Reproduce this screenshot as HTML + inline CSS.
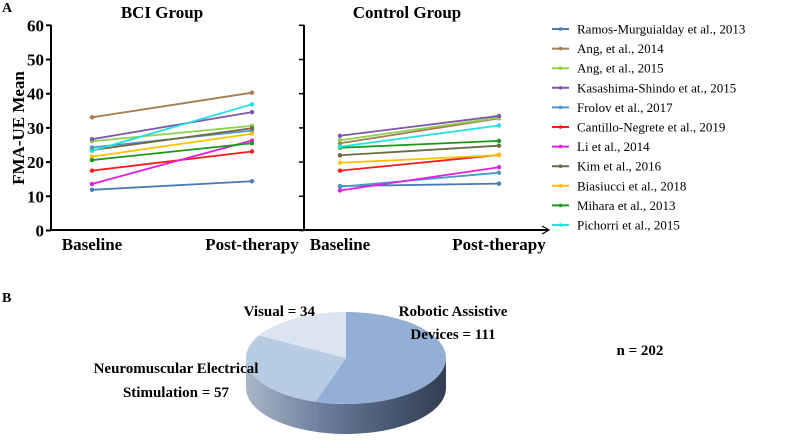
<!DOCTYPE html>
<html><head><meta charset="utf-8"><style>
body{margin:0;background:#fff;width:791px;height:440px;overflow:hidden}
svg{display:block;font-family:"Liberation Serif",serif}
.b{font-weight:bold}
</style></head><body>
<svg id="c" width="791" height="440">
<text x="2" y="12" class="b" font-size="14">A</text>
<text x="2" y="302" class="b" font-size="14">B</text>
<text x="162" y="18" class="b" font-size="17" text-anchor="middle">BCI Group</text>
<text x="407" y="18" class="b" font-size="17" text-anchor="middle">Control Group</text>
<text transform="translate(24,128) rotate(-90)" class="b" font-size="17" text-anchor="middle">FMA-UE Mean</text>
<g id="axes"></g><g id="lines"></g><g id="legend"></g><g id="pie"></g>
<text x="315" y="316" class="b" font-size="15" text-anchor="end">Visual = 34</text>
<text x="453" y="316" class="b" font-size="15" text-anchor="middle">Robotic Assistive</text>
<text x="453" y="339" class="b" font-size="15" text-anchor="middle">Devices = 111</text>
<text x="176" y="373" class="b" font-size="15" text-anchor="middle">Neuromuscular Electrical</text>
<text x="176" y="397" class="b" font-size="15" text-anchor="middle">Stimulation = 57</text>
<text x="640" y="355" class="b" font-size="15" text-anchor="middle">n = 202</text>
</svg>
<script>
const studies=["Ramos-Murguialday et al., 2013","Ang, et al., 2014","Ang, et al., 2015","Kasashima-Shindo et at., 2015","Frolov et al., 2017","Cantillo-Negrete et al., 2019","Li et al., 2014","Kim et al., 2016","Biasiucci et al., 2018","Mihara et al., 2013","Pichorri et al., 2015"];
const colors=["#4a7ab5","#a87b50","#8fd14f","#7e57a8","#4b9ac4","#ff1a1a","#e020e0","#6e6a44","#ffc000","#1a9a1a","#20e0e0"];
const bciBase=[11.9,33.1,26.1,26.7,24.3,17.5,13.6,23.5,21.6,20.6,23.3];
const bciPost=[14.4,40.3,30.6,34.6,29.2,23.1,26.3,29.9,28.3,25.5,36.9];
const ctlBase=[13.0,25.5,26.4,27.7,12.8,17.5,11.7,22.0,19.8,24.2,24.5];
const ctlPost=[13.7,32.8,33.0,33.5,16.9,22.1,18.5,24.8,22.0,26.2,30.7];
const yTicks=[0,10,20,30,40,50,60];
const pieLabels=["Robotic Assistive Devices","Neuromuscular Electrical Stimulation","Visual"];
const pieValues=[111,57,34];
const NS="http://www.w3.org/2000/svg";
function mk(p,t,a){const e=document.createElementNS(NS,t);for(const k in a)e.setAttribute(k,a[k]);p.appendChild(e);return e;}
const y=v=>230.5-v*3.42;
const ax=document.getElementById('axes');
mk(ax,'path',{d:'M51,25V230H548M304,25V230',stroke:'#000','stroke-width':2,fill:'none'});
mk(ax,'path',{d:'M542,226L549,230L542,234',stroke:'#000','stroke-width':1.2,fill:'none'});
yTicks.forEach(v=>{
 const t=mk(ax,'line',{x1:46,x2:51,y1:y(v),y2:y(v),stroke:'#000','stroke-width':2});
 
 const t2=mk(ax,'line',{x1:299,x2:304,y1:y(v),y2:y(v),stroke:'#000','stroke-width':1.5});
 
 const l=mk(ax,'text',{x:44,y:y(v)+6,'text-anchor':'end','font-size':17,'font-weight':'bold'});l.textContent=v;
 
});
[[92,'Baseline'],[252,'Post-therapy'],[340,'Baseline'],[499,'Post-therapy']].forEach(([x,s])=>{
 const l=mk(ax,'text',{x:x,y:250,'text-anchor':'middle','font-size':17,'font-weight':'bold'});l.textContent=s;
 
});
const lg=document.getElementById('lines');
function series(base,post,x0,x1,grp){
 studies.forEach((s,i)=>{
  const g=mk(lg,'g',{});
  
  
  mk(g,'line',{x1:x0,y1:y(base[i]),x2:x1,y2:y(post[i]),stroke:colors[i],'stroke-width':1.8});
  [[x0,base[i]],[x1,post[i]]].forEach(([x,v])=>mk(g,'circle',{cx:x,cy:y(v),r:2.2,fill:colors[i]}));
 });
}
series(bciBase,bciPost,92,252,'bci');
series(ctlBase,ctlPost,340,499,'control');
const le=document.getElementById('legend');
studies.forEach((s,i)=>{
 const yy=29+i*19.6;
 const g=mk(le,'g',{});
 
 
 mk(g,'line',{x1:552,x2:569,y1:yy,y2:yy,stroke:colors[i],'stroke-width':2});
 mk(g,'circle',{cx:560.5,cy:yy,r:1.8,fill:colors[i]});
 const t=mk(g,'text',{x:577,y:yy+4.5,'font-size':13});t.textContent=s;
});
// pie
const pg=document.getElementById('pie');
const cx=346,cy=358,rx=100,ry=46,d=30;
const pcol=["#93afd6","#b7cce3","#dbe4f0"];
const tot=pieValues.reduce((a,b)=>a+b,0);
let a0=-Math.PI/2;const arcs=[];
pieValues.forEach((v,i)=>{const a1=a0+v/tot*2*Math.PI;arcs.push([a0,a1]);a0=a1;});
const P=(a,dy)=>[cx+rx*Math.cos(a),cy+ry*Math.sin(a)+(dy||0)];
const defs=mk(pg,'defs',{});
const gr=mk(defs,'linearGradient',{id:'sg',gradientUnits:'userSpaceOnUse',x1:cx-rx,x2:cx+rx,y1:0,y2:0});
[[0,'#a9b6c8'],[0.35,'#6f82a0'],[0.7,'#4a5a75'],[1,'#323e52']].forEach(([o,c])=>mk(gr,'stop',{offset:o,'stop-color':c}));
arcs.forEach(([s,e],i)=>{
 const s2=Math.max(s,0),e2=Math.min(e,Math.PI);
 if(e2<=s2)return;
 const p1=P(s2),p2=P(e2),p3=P(e2,d),p4=P(s2,d);
 const w=mk(pg,'path',{d:`M${p1}A${rx},${ry} 0 0 1 ${p2}L${p3}A${rx},${ry} 0 0 0 ${p4}Z`,fill:'url(#sg)'});
 
});
arcs.forEach(([s,e],i)=>{
 const p1=P(s),p2=P(e);const large=(e-s)>Math.PI?1:0;
 const sl=mk(pg,'path',{d:`M${cx},${cy}L${p1}A${rx},${ry} 0 ${large} 1 ${p2}Z`,fill:pcol[i]});
 
 
});
</script>
</body></html>
